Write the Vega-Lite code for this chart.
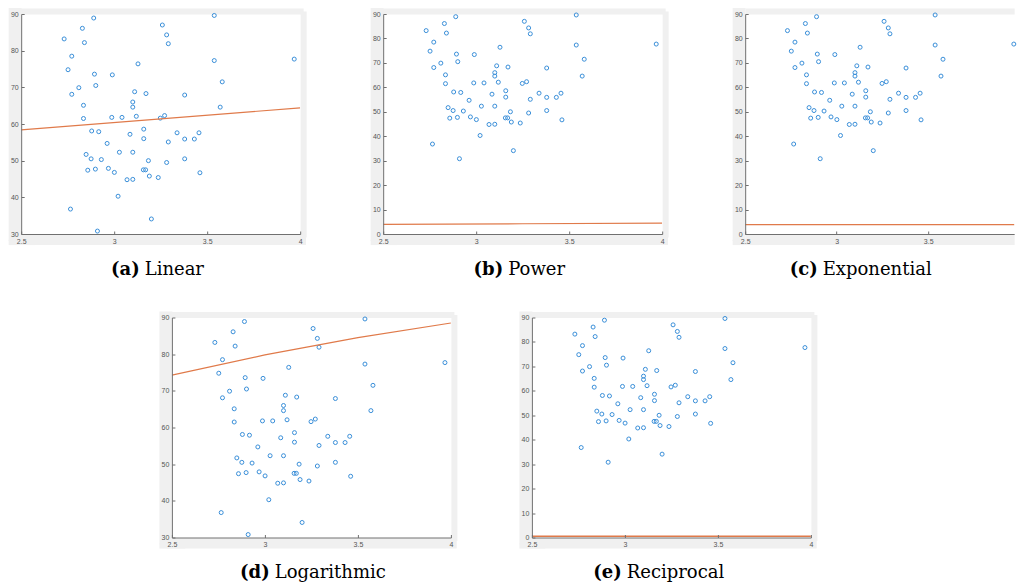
{
"$schema":"https://vega.github.io/schema/vega-lite/v6.json",
"background":"white",
"padding":{"left":8,"top":8,"right":0,"bottom":0},
"config":{"view":{"stroke":null,"fill":"white"},"axis":{"grid":false,"labelFlush":false}},
"datasets":{
"pts":[
{"x":2.731,"y":83.2},{"x":2.829,"y":86.1},{"x":2.890,"y":88.9},{"x":2.840,"y":82.2},{"x":2.772,"y":78.5},{"x":2.752,"y":74.8},{"x":2.894,"y":73.6},{"x":2.990,"y":73.4},{"x":2.810,"y":69.9},{"x":2.901,"y":70.5},{"x":2.772,"y":68.1},{"x":2.835,"y":65.1},{"x":2.835,"y":61.5},{"x":2.879,"y":58.1},{"x":2.917,"y":57.9},{"x":2.987,"y":61.8},{"x":3.042,"y":61.8},{"x":2.962,"y":54.7},{"x":2.849,"y":51.7},{"x":2.876,"y":50.5},{"x":2.931,"y":50.3},{"x":2.858,"y":47.4},{"x":2.899,"y":47.7},{"x":2.969,"y":47.9},{"x":3.001,"y":46.8},{"x":3.028,"y":52.3},{"x":3.100,"y":52.3},{"x":3.069,"y":44.8},{"x":3.100,"y":44.9},{"x":3.021,"y":40.3},{"x":2.765,"y":36.8},{"x":2.910,"y":30.8},{"x":3.200,"y":34.1},{"x":3.128,"y":76.4},{"x":3.110,"y":68.8},{"x":3.171,"y":68.3},{"x":3.100,"y":66.0},{"x":3.100,"y":64.6},{"x":3.119,"y":62.1},{"x":3.085,"y":57.2},{"x":3.159,"y":58.6},{"x":3.159,"y":56.0},{"x":3.184,"y":50.0},{"x":3.157,"y":47.5},{"x":3.169,"y":47.5},{"x":3.189,"y":45.8},{"x":3.237,"y":45.4},{"x":3.259,"y":87.0},{"x":3.282,"y":84.3},{"x":3.291,"y":81.9},{"x":3.248,"y":61.6},{"x":3.271,"y":62.3},{"x":3.291,"y":55.1},{"x":3.282,"y":49.5},{"x":3.338,"y":57.6},{"x":3.379,"y":67.9},{"x":3.379,"y":55.9},{"x":3.379,"y":50.5},{"x":3.431,"y":55.9},{"x":3.456,"y":57.6},{"x":3.461,"y":46.7},{"x":3.538,"y":89.6},{"x":3.538,"y":77.3},{"x":3.581,"y":71.5},{"x":3.570,"y":64.6},{"x":3.968,"y":77.7}
],
"lin":[{"x":2.5,"y":58.4},{"x":4,"y":64.4}],
"pow":[{"x":2.5,"y":3.96},{"x":3.25,"y":4.2},{"x":4,"y":4.45}],
"expo":[{"x":2.5,"y":3.8},{"x":4,"y":3.85}],
"logf":[{"x":2.5,"y":74.3},{"x":3,"y":79.8},{"x":3.5,"y":84.5},{"x":4,"y":88.5}],
"recip":[{"x":2.5,"y":0.5},{"x":4,"y":0.5}]
},
"spacing":32.5,
"center":true,
"vconcat":[
{"spacing":64,"hconcat":[
{"width":279,"height":220,"resolve":{"axis":{"x":"independent","y":"independent"}},"layer":[
{"data":{"name":"pts"},"transform":[{"filter":"datum.x < 3.2"}],"mark":{"type":"point","filled":false,"size":16,"strokeWidth":1,"color":"#3a8fd9","opacity":1},
"encoding":{"x":{"field":"x","type":"quantitative","scale":{"domain":[2.5,4],"nice":false,"zero":false},"title":"Linear","axis":{"values":[2.5,3,3.5,4],"format":"~g","labelFlush":false,"domainColor":"#707070","tickColor":"#707070","tickSize":-3,"labelPadding":6,"labelFont":"Liberation Sans","labelFontSize":7,"labelColor":"#555555","titleFont":"DejaVu Serif","titleFontSize":18,"titleFontWeight":"normal","titleColor":"#000000","titleX":123,"titleY":40.3,"titleAlign":"left","titleBaseline":"alphabetic","zindex":2}},
"y":{"field":"y","type":"quantitative","scale":{"domain":[30,90],"nice":false,"zero":false},"title":null,"axis":{"values":[30,40,50,60,70,80,90],"labelFlush":false,"domainColor":"#707070","tickColor":"#707070","tickSize":-3,"labelPadding":6,"labelFont":"Liberation Sans","labelFontSize":7,"labelColor":"#555555","minExtent":0,"zindex":2}}}},
{"data":{"name":"pts"},"transform":[{"filter":"datum.x >= 3.2"}],"mark":{"type":"point","filled":false,"size":16,"strokeWidth":1,"color":"#3a8fd9","opacity":1},
"encoding":{"x":{"field":"x","type":"quantitative","title":"(a)","axis":{"orient":"bottom","offset":5.3,"domainColor":"#f0f0f0","domainWidth":10.6,"domainCap":"square","values":[2.5],"tickSize":5.3,"tickWidth":26,"tickColor":"#f0f0f0","labels":false,"minExtent":5.3,"titleFont":"DejaVu Serif","titleFontSize":18,"titleFontWeight":"bold","titleColor":"#000000","titleX":118,"titleY":35,"titleAlign":"right","titleBaseline":"alphabetic","zindex":0}},
"y":{"field":"y","type":"quantitative","title":null,"axis":{"orient":"left","offset":6.5,"domainColor":"#f0f0f0","domainWidth":13,"domainCap":"square","ticks":false,"labels":false,"minExtent":6.5,"zindex":0}}}},
{"data":{"name":"lin"},"mark":{"type":"line","color":"#e07a4a","strokeWidth":1.2,"clip":true},
"encoding":{"x":{"field":"x","type":"quantitative","title":null,"axis":{"orient":"top","offset":3,"domainColor":"#f0f0f0","domainWidth":6,"domainCap":"square","ticks":false,"labels":false,"minExtent":3,"zindex":0}},
"y":{"field":"y","type":"quantitative","title":null,"axis":{"orient":"right","offset":3,"domainColor":"#f0f0f0","domainWidth":6,"domainCap":"square","ticks":false,"labels":false,"minExtent":3,"zindex":0}}}}
]},
{"width":279,"height":220,"resolve":{"axis":{"x":"independent","y":"independent"}},"layer":[
{"data":{"name":"pts"},"transform":[{"filter":"datum.x < 3.2"}],"mark":{"type":"point","filled":false,"size":16,"strokeWidth":1,"color":"#3a8fd9","opacity":1},
"encoding":{"x":{"field":"x","type":"quantitative","scale":{"domain":[2.5,4],"nice":false,"zero":false},"title":"Power","axis":{"values":[2.5,3,3.5,4],"format":"~g","labelFlush":false,"domainColor":"#707070","tickColor":"#707070","tickSize":-3,"labelPadding":6,"labelFont":"Liberation Sans","labelFontSize":7,"labelColor":"#555555","titleFont":"DejaVu Serif","titleFontSize":18,"titleFontWeight":"normal","titleColor":"#000000","titleX":124.5,"titleY":40.3,"titleAlign":"left","titleBaseline":"alphabetic","zindex":2}},
"y":{"field":"y","type":"quantitative","scale":{"domain":[0,90],"nice":false,"zero":false},"title":null,"axis":{"values":[0,10,20,30,40,50,60,70,80,90],"labelFlush":false,"domainColor":"#707070","tickColor":"#707070","tickSize":-3,"labelPadding":6,"labelFont":"Liberation Sans","labelFontSize":7,"labelColor":"#555555","minExtent":0,"zindex":2}}}},
{"data":{"name":"pts"},"transform":[{"filter":"datum.x >= 3.2"}],"mark":{"type":"point","filled":false,"size":16,"strokeWidth":1,"color":"#3a8fd9","opacity":1},
"encoding":{"x":{"field":"x","type":"quantitative","title":"(b)","axis":{"orient":"bottom","offset":5.3,"domainColor":"#f0f0f0","domainWidth":10.6,"domainCap":"square","values":[2.5],"tickSize":5.3,"tickWidth":26,"tickColor":"#f0f0f0","labels":false,"minExtent":5.3,"titleFont":"DejaVu Serif","titleFontSize":18,"titleFontWeight":"bold","titleColor":"#000000","titleX":119.5,"titleY":35,"titleAlign":"right","titleBaseline":"alphabetic","zindex":0}},
"y":{"field":"y","type":"quantitative","title":null,"axis":{"orient":"left","offset":6.5,"domainColor":"#f0f0f0","domainWidth":13,"domainCap":"square","ticks":false,"labels":false,"minExtent":6.5,"zindex":0}}}},
{"data":{"name":"pow"},"mark":{"type":"line","color":"#e07a4a","strokeWidth":1.2,"clip":true},
"encoding":{"x":{"field":"x","type":"quantitative","title":null,"axis":{"orient":"top","offset":3,"domainColor":"#f0f0f0","domainWidth":6,"domainCap":"square","ticks":false,"labels":false,"minExtent":3,"zindex":0}},
"y":{"field":"y","type":"quantitative","title":null,"axis":{"orient":"right","offset":3,"domainColor":"#f0f0f0","domainWidth":6,"domainCap":"square","ticks":false,"labels":false,"minExtent":3,"zindex":0}}}}
]},
{"width":269,"height":220,"resolve":{"axis":{"x":"independent","y":"independent"}},"layer":[
{"data":{"name":"pts"},"transform":[{"filter":"datum.x < 3.2"}],"mark":{"type":"point","filled":false,"size":16,"strokeWidth":1,"color":"#3a8fd9","opacity":1},
"encoding":{"x":{"field":"x","type":"quantitative","scale":{"domain":[2.5,3.97],"nice":false,"zero":false},"title":"Exponential","axis":{"values":[2.5,3,3.5],"format":"~g","labelFlush":false,"domainColor":"#707070","tickColor":"#707070","tickSize":-3,"labelPadding":6,"labelFont":"Liberation Sans","labelFontSize":7,"labelColor":"#555555","titleFont":"DejaVu Serif","titleFontSize":18,"titleFontWeight":"normal","titleColor":"#000000","titleX":77,"titleY":40.3,"titleAlign":"left","titleBaseline":"alphabetic","zindex":2}},
"y":{"field":"y","type":"quantitative","scale":{"domain":[0,90],"nice":false,"zero":false},"title":null,"axis":{"values":[0,10,20,30,40,50,60,70,80,90],"labelFlush":false,"domainColor":"#707070","tickColor":"#707070","tickSize":-3,"labelPadding":6,"labelFont":"Liberation Sans","labelFontSize":7,"labelColor":"#555555","minExtent":0,"zindex":2}}}},
{"data":{"name":"pts"},"transform":[{"filter":"datum.x >= 3.2"}],"mark":{"type":"point","filled":false,"size":16,"strokeWidth":1,"color":"#3a8fd9","opacity":1},
"encoding":{"x":{"field":"x","type":"quantitative","title":"(c)","axis":{"orient":"bottom","offset":5.3,"domainColor":"#f0f0f0","domainWidth":10.6,"values":[2.5],"tickSize":5.3,"tickWidth":26,"tickColor":"#f0f0f0","labels":false,"minExtent":5.3,"titleFont":"DejaVu Serif","titleFontSize":18,"titleFontWeight":"bold","titleColor":"#000000","titleX":72,"titleY":35,"titleAlign":"right","titleBaseline":"alphabetic","zindex":0}},
"y":{"field":"y","type":"quantitative","title":null,"axis":{"orient":"left","offset":6.5,"domainColor":"#f0f0f0","domainWidth":13,"domainCap":"square","ticks":false,"labels":false,"minExtent":6.5,"zindex":0}}}},
{"data":{"name":"expo"},"mark":{"type":"line","color":"#e07a4a","strokeWidth":1.2,"clip":true},
"encoding":{"x":{"field":"x","type":"quantitative","title":null,"axis":{"orient":"top","offset":3,"domainColor":"#f0f0f0","domainWidth":6,"ticks":false,"labels":false,"minExtent":3,"zindex":0}},
"y":{"field":"y","type":"quantitative","title":null,"axis":null}}}
]}
]},
{"spacing":62,"hconcat":[
{"width":279,"height":220,"resolve":{"axis":{"x":"independent","y":"independent"}},"layer":[
{"data":{"name":"pts"},"transform":[{"filter":"datum.x < 3.2"}],"mark":{"type":"point","filled":false,"size":16,"strokeWidth":1,"color":"#3a8fd9","opacity":1},
"encoding":{"x":{"field":"x","type":"quantitative","scale":{"domain":[2.5,4],"nice":false,"zero":false},"title":"Logarithmic","axis":{"values":[2.5,3,3.5,4],"format":"~g","labelFlush":false,"domainColor":"#707070","tickColor":"#707070","tickSize":-3,"labelPadding":6,"labelFont":"Liberation Sans","labelFontSize":7,"labelColor":"#555555","titleFont":"DejaVu Serif","titleFontSize":18,"titleFontWeight":"normal","titleColor":"#000000","titleX":102.3,"titleY":40.3,"titleAlign":"left","titleBaseline":"alphabetic","zindex":2}},
"y":{"field":"y","type":"quantitative","scale":{"domain":[30,90],"nice":false,"zero":false},"title":null,"axis":{"values":[30,40,50,60,70,80,90],"labelFlush":false,"domainColor":"#707070","tickColor":"#707070","tickSize":-3,"labelPadding":6,"labelFont":"Liberation Sans","labelFontSize":7,"labelColor":"#555555","minExtent":0,"zindex":2}}}},
{"data":{"name":"pts"},"transform":[{"filter":"datum.x >= 3.2"}],"mark":{"type":"point","filled":false,"size":16,"strokeWidth":1,"color":"#3a8fd9","opacity":1},
"encoding":{"x":{"field":"x","type":"quantitative","title":"(d)","axis":{"orient":"bottom","offset":5.3,"domainColor":"#f0f0f0","domainWidth":10.6,"domainCap":"square","values":[2.5],"tickSize":5.3,"tickWidth":26,"tickColor":"#f0f0f0","labels":false,"minExtent":5.3,"titleFont":"DejaVu Serif","titleFontSize":18,"titleFontWeight":"bold","titleColor":"#000000","titleX":97.3,"titleY":35,"titleAlign":"right","titleBaseline":"alphabetic","zindex":0}},
"y":{"field":"y","type":"quantitative","title":null,"axis":{"orient":"left","offset":6.5,"domainColor":"#f0f0f0","domainWidth":13,"domainCap":"square","ticks":false,"labels":false,"minExtent":6.5,"zindex":0}}}},
{"data":{"name":"logf"},"mark":{"type":"line","color":"#e07a4a","strokeWidth":1.2,"clip":true},
"encoding":{"x":{"field":"x","type":"quantitative","title":null,"axis":{"orient":"top","offset":3,"domainColor":"#f0f0f0","domainWidth":6,"domainCap":"square","ticks":false,"labels":false,"minExtent":3,"zindex":0}},
"y":{"field":"y","type":"quantitative","title":null,"axis":{"orient":"right","offset":3,"domainColor":"#f0f0f0","domainWidth":6,"domainCap":"square","ticks":false,"labels":false,"minExtent":3,"zindex":0}}}}
]},
{"width":279,"height":220,"resolve":{"axis":{"x":"independent","y":"independent"}},"layer":[
{"data":{"name":"pts"},"transform":[{"filter":"datum.x < 3.2"}],"mark":{"type":"point","filled":false,"size":16,"strokeWidth":1,"color":"#3a8fd9","opacity":1},
"encoding":{"x":{"field":"x","type":"quantitative","scale":{"domain":[2.5,4],"nice":false,"zero":false},"title":"Reciprocal","axis":{"values":[2.5,3,3.5,4],"format":"~g","labelFlush":false,"domainColor":"#707070","tickColor":"#707070","tickSize":-3,"labelPadding":6,"labelFont":"Liberation Sans","labelFontSize":7,"labelColor":"#555555","titleFont":"DejaVu Serif","titleFontSize":18,"titleFontWeight":"normal","titleColor":"#000000","titleX":94.3,"titleY":40.3,"titleAlign":"left","titleBaseline":"alphabetic","zindex":2}},
"y":{"field":"y","type":"quantitative","scale":{"domain":[0,90],"nice":false,"zero":false},"title":null,"axis":{"values":[0,10,20,30,40,50,60,70,80,90],"labelFlush":false,"domainColor":"#707070","tickColor":"#707070","tickSize":-3,"labelPadding":6,"labelFont":"Liberation Sans","labelFontSize":7,"labelColor":"#555555","minExtent":0,"zindex":2}}}},
{"data":{"name":"pts"},"transform":[{"filter":"datum.x >= 3.2"}],"mark":{"type":"point","filled":false,"size":16,"strokeWidth":1,"color":"#3a8fd9","opacity":1},
"encoding":{"x":{"field":"x","type":"quantitative","title":"(e)","axis":{"orient":"bottom","offset":5.3,"domainColor":"#f0f0f0","domainWidth":10.6,"domainCap":"square","values":[2.5],"tickSize":5.3,"tickWidth":26,"tickColor":"#f0f0f0","labels":false,"minExtent":5.3,"titleFont":"DejaVu Serif","titleFontSize":18,"titleFontWeight":"bold","titleColor":"#000000","titleX":89.3,"titleY":35,"titleAlign":"right","titleBaseline":"alphabetic","zindex":0}},
"y":{"field":"y","type":"quantitative","title":null,"axis":{"orient":"left","offset":6.5,"domainColor":"#f0f0f0","domainWidth":13,"domainCap":"square","ticks":false,"labels":false,"minExtent":6.5,"zindex":0}}}},
{"data":{"name":"recip"},"mark":{"type":"line","color":"#e07a4a","strokeWidth":1.4,"clip":true},
"encoding":{"x":{"field":"x","type":"quantitative","title":null,"axis":{"orient":"top","offset":3,"domainColor":"#f0f0f0","domainWidth":6,"domainCap":"square","ticks":false,"labels":false,"minExtent":3,"zindex":0}},
"y":{"field":"y","type":"quantitative","title":null,"axis":{"orient":"right","offset":3,"domainColor":"#f0f0f0","domainWidth":6,"domainCap":"square","ticks":false,"labels":false,"minExtent":53.2,"zindex":0}}}}
]}
]}
]
}
